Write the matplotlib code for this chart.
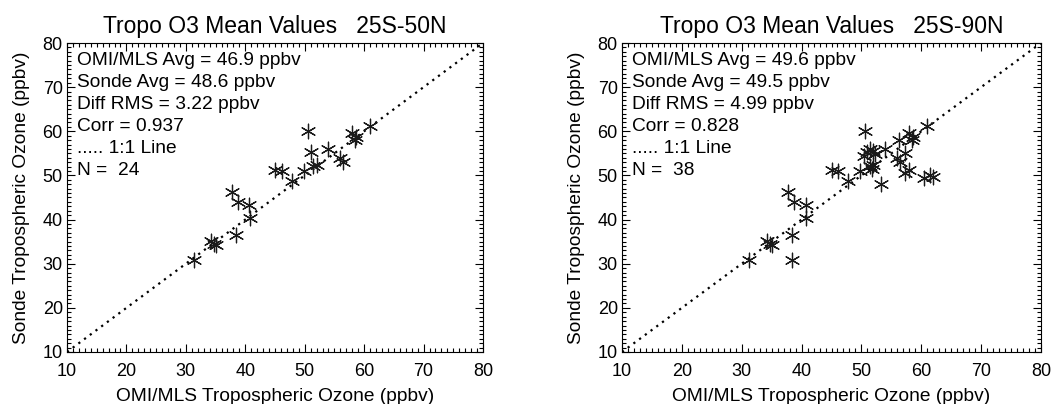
import matplotlib.pyplot as plt
import numpy as np

plt.rcParams["font.family"] = ["Liberation Sans", "DejaVu Sans"]

# 25S-50N stations (N = 24)
omi_50n = [31.3, 34.3, 34.8, 35.0, 37.7, 38.7, 38.4, 40.7, 40.8, 45.0, 46.1, 47.8,
           49.8, 50.6, 51.0, 51.4, 52.0, 54.0, 55.9, 56.5, 57.9, 58.4, 58.6, 61.0]
sonde_50n = [30.9, 35.2, 34.5, 34.3, 46.2, 43.9, 36.6, 43.4, 40.3, 51.3, 50.9, 48.8,
             50.9, 60.0, 55.2, 52.1, 52.4, 56.1, 53.9, 53.0, 59.6, 58.1, 58.6, 61.3]

# extra high-latitude stations added for 25S-90N (N = 38)
omi_extra = [38.4, 53.2, 50.4, 51.5, 52.0, 51.8, 56.2, 57.3, 57.3, 58.0, 60.4, 61.5, 62.0, 52.3]
sonde_extra = [30.9, 48.0, 54.3, 56.0, 55.5, 51.5, 58.1, 55.1, 50.5, 51.3, 49.4, 50.2, 49.6, 54.8]

titles = ["Tropo O3 Mean Values   25S-50N", "Tropo O3 Mean Values   25S-90N"]
stats = [
    ["OMI/MLS Avg = 46.9 ppbv", "Sonde Avg = 48.6 ppbv", "Diff RMS = 3.22 ppbv",
     "Corr = 0.937", "..... 1:1 Line", "N =  24"],
    ["OMI/MLS Avg = 49.6 ppbv", "Sonde Avg = 49.5 ppbv", "Diff RMS = 4.99 ppbv",
     "Corr = 0.828", "..... 1:1 Line", "N =  38"],
]
ticks = [10, 20, 30, 40, 50, 60, 70, 80]

fig = plt.figure(figsize=(10.59, 4.04), dpi=100)
axes = [fig.add_axes([67 / 1059, 1 - 352 / 404, 416 / 1059, 309 / 404]),
        fig.add_axes([622 / 1059, 1 - 352 / 404, 419 / 1059, 309 / 404])]

data = [(omi_50n, sonde_50n), (omi_50n + omi_extra, sonde_50n + sonde_extra)]

for ax, (x, y), title, lines in zip(axes, data, titles, stats):
    ax.plot([10, 80], [10, 80], color="black", linestyle=(0, (1, 2.2)), linewidth=1.6)
    ax.scatter(x, y, marker=(6, 2, 0), s=110, color="#1a1a1a", linewidths=0.9, zorder=3)
    ax.set_xlim(10, 80)
    ax.set_ylim(10, 80)
    ax.set_xticks(ticks)
    ax.set_yticks(ticks)
    ax.set_xticks(np.arange(10, 81, 1), minor=True)
    ax.set_yticks(np.arange(10, 81, 1), minor=True)
    ax.tick_params(which="both", direction="in", top=True, right=True, labelsize=13,
                   width=0.8)
    ax.tick_params(axis="x", pad=8)
    ax.tick_params(axis="y", pad=3)
    ax.tick_params(which="major", length=6)
    ax.tick_params(which="minor", length=3)
    ax.set_title(title, fontsize=16.5, pad=7)
    ax.set_xlabel("OMI/MLS Tropospheric Ozone (ppbv)", fontsize=13.8, labelpad=6)
    ax.set_ylabel("Sonde Tropospheric Ozone (ppbv)", fontsize=13.8, labelpad=9)
    for i, line in enumerate(lines):
        ax.text(11.6, 76.1 - 5 * i, line, fontsize=13.8, ha="left", va="center")

fig.savefig("out.png", dpi=100)
